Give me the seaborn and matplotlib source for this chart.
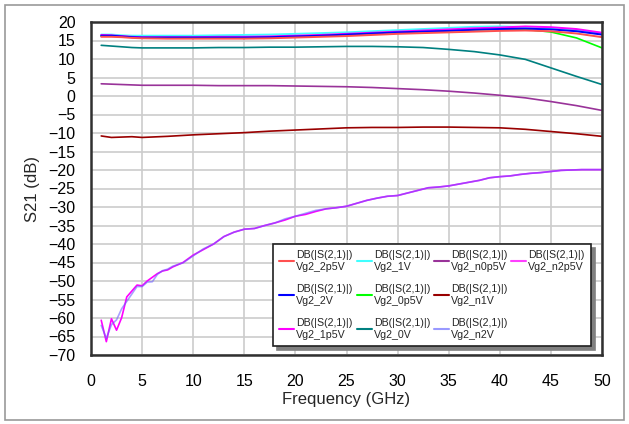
import numpy as np
import pandas as pd
import seaborn as sns
import matplotlib
matplotlib.use("Agg")
import matplotlib.pyplot as plt
from matplotlib.lines import Line2D
from matplotlib.patches import Rectangle

# ---------------- data ----------------
freq = [1, 2, 3, 4, 5, 7.5, 10, 12.5, 15, 17.5, 20, 22.5, 25, 27.5, 30,
        32.5, 35, 37.5, 40, 42.5, 45, 47.5, 50]

vg2_2p5V = [16.0, 16.0, 15.9, 15.7, 15.6, 15.5, 15.5, 15.5, 15.5, 15.6, 15.8, 16.0,
            16.2, 16.5, 16.8, 17.0, 17.2, 17.4, 17.6, 17.7, 17.5, 16.9, 15.9]
vg2_2V = [16.3, 16.3, 16.1, 15.9, 15.8, 15.8, 15.8, 15.8, 15.8, 15.9, 16.1, 16.3,
          16.6, 16.9, 17.2, 17.4, 17.6, 17.9, 18.1, 18.2, 18.0, 17.5, 16.6]
vg2_1p5V = [16.5, 16.4, 16.2, 16.0, 15.9, 15.9, 15.9, 16.0, 16.0, 16.1, 16.3, 16.5,
            16.8, 17.1, 17.4, 17.7, 18.0, 18.3, 18.5, 18.8, 18.6, 18.1, 17.1]
vg2_1V = [16.6, 16.6, 16.4, 16.3, 16.3, 16.3, 16.3, 16.4, 16.5, 16.6, 16.8, 17.0,
          17.2, 17.5, 17.8, 18.1, 18.4, 18.7, 18.8, 18.6, 18.3, 17.8, 17.0]
vg2_0p5V = [16.2, 16.2, 16.0, 15.9, 15.8, 15.8, 15.8, 15.9, 15.9, 16.0, 16.2, 16.4,
            16.7, 17.0, 17.3, 17.5, 17.7, 17.9, 18.0, 18.0, 17.3, 15.7, 13.0]
vg2_0V = [13.7, 13.5, 13.3, 13.1, 13.0, 13.0, 13.0, 13.1, 13.1, 13.2, 13.2, 13.3,
          13.4, 13.4, 13.3, 13.1, 12.6, 12.0, 11.1, 9.9, 7.6, 5.3, 3.1]
vg2_n0p5V = [3.3, 3.2, 3.1, 3.0, 2.9, 2.9, 2.9, 2.8, 2.8, 2.8, 2.7, 2.6,
             2.5, 2.3, 2.0, 1.7, 1.3, 0.8, 0.2, -0.5, -1.5, -2.6, -3.9]
vg2_n1V = [-10.8, -11.2, -11.1, -11.0, -11.2, -10.9, -10.5, -10.2, -9.9, -9.5, -9.2, -8.9,
           -8.6, -8.5, -8.5, -8.4, -8.4, -8.5, -8.6, -9.0, -9.6, -10.2, -10.9]

freq_fine = [1, 1.5, 2, 2.5, 3, 3.5, 4, 4.5, 5, 5.5, 6, 6.5, 7, 7.5, 8, 9, 10, 11, 12,
             13, 14, 15, 16, 17, 18, 19, 20, 21, 22, 23, 24, 25, 26, 27, 28, 29, 30,
             31, 32, 33, 34, 35, 36, 37, 38, 39, 40, 41, 42, 43, 44, 45, 46, 47, 48,
             49, 50]
vg2_n2p5V = [-60.6, -66.4, -60.2, -63.3, -59.9, -54.3, -52.7, -51.1, -51.3, -50.0, -49.0,
             -48.0, -47.3, -47.0, -46.2, -45.0, -43.0, -41.5, -40.0, -38.0, -36.8, -36.0,
             -35.8, -35.0, -34.3, -33.5, -32.5, -32.0, -31.2, -30.5, -30.2, -29.8, -29.0,
             -28.2, -27.6, -27.1, -26.9, -26.2, -25.5, -24.8, -24.6, -24.3, -23.8, -23.3,
             -22.8, -22.1, -21.8, -21.6, -21.2, -20.9, -20.7, -20.4, -20.1, -20.0, -19.9,
             -19.9, -19.9]
vg2_n2V = [-62.0, -65.5, -61.8, -60.5, -57.5, -55.5, -53.5, -51.5, -51.5, -50.3, -50.2,
           -48.2, -47.2, -46.8, -46.0, -45.1, -43.2, -41.3, -40.0, -38.0, -36.8, -36.0,
           -35.8, -35.0, -34.3, -33.2, -32.5, -31.7, -30.9, -30.5, -30.2, -29.8, -29.0,
           -28.2, -27.6, -27.1, -26.9, -26.2, -25.5, -24.8, -24.6, -24.3, -23.8, -23.3,
           -22.8, -22.1, -21.8, -21.6, -21.2, -20.9, -20.7, -20.4, -20.1, -20.0, -19.9,
           -19.9, -19.9]

series_names = ["Vg2_2p5V", "Vg2_2V", "Vg2_1p5V", "Vg2_1V", "Vg2_0p5V", "Vg2_0V",
                "Vg2_n0p5V", "Vg2_n1V", "Vg2_n2V", "Vg2_n2p5V"]
series_vals = [vg2_2p5V, vg2_2V, vg2_1p5V, vg2_1V, vg2_0p5V, vg2_0V,
               vg2_n0p5V, vg2_n1V, vg2_n2V, vg2_n2p5V]
series_freq = [freq] * 8 + [freq_fine, freq_fine]
colors = ["#FF5050", "#0000FF", "#FF00FF", "#40FFFF", "#00FF00", "#008080",
          "#993399", "#990000", "#9999FF", "#FF40FF"]

x_ticks = list(range(0, 51, 5))
y_ticks = list(range(-70, 21, 5))

# ---------------- build frame ----------------
rows = []
for name, fr, vals in zip(series_names, series_freq, series_vals):
    for f, v in zip(fr, vals):
        rows.append({"freq": f, "s21": v, "series": name})
df = pd.DataFrame(rows)

sns.set_style("white")
plt.rcParams["font.family"] = ["Liberation Sans", "DejaVu Sans"]

fig = plt.figure(figsize=(6.29, 4.24), dpi=100)
ax = fig.add_axes([91/629, 1-355/424, 511/629, 333/424])

# outer frame of figure
fig.patches.append(Rectangle((5/629, 4/424), 619/629, 415/424, transform=fig.transFigure,
                             fill=False, edgecolor="#999999", linewidth=1.2))

palette = dict(zip(series_names, colors))
draw_order = ["Vg2_n1V", "Vg2_n0p5V", "Vg2_0V", "Vg2_0p5V", "Vg2_1V", "Vg2_1p5V",
              "Vg2_2V", "Vg2_2p5V", "Vg2_n2p5V", "Vg2_n2V"]
line_color = dict(palette)
line_color["Vg2_n2p5V"] = "#FF00FF"
line_color["Vg2_n2V"] = "#7060FF"
for name in draw_order:
    sub = df[df["series"] == name]
    alpha = 0.6 if name == "Vg2_n2V" else 1.0
    lw = 1.4 if name in ("Vg2_2p5V", "Vg2_2V", "Vg2_1p5V", "Vg2_1V") else 1.2
    sns.lineplot(data=sub, x="freq", y="s21", color=line_color[name], linewidth=lw,
                 alpha=alpha, ax=ax, legend=False, estimator=None, sort=False)

ax.set_xlim(0, 50)
ax.set_ylim(-70, 20)
ax.set_xticks(x_ticks)
ax.set_yticks(y_ticks)
ax.grid(True, color="#CCCCCC", linewidth=1.2)
ax.set_axisbelow(True)
ax.tick_params(axis="both", length=0, labelsize=11.5, colors="black")
ax.tick_params(axis="x", pad=14)
ax.tick_params(axis="y", pad=11)
for s in ax.spines.values():
    s.set_color("#303030")
    s.set_linewidth(1.8)
ax.set_xlabel("Frequency (GHz)", fontsize=12, labelpad=2)
ax.set_ylabel("S21 (dB)", fontsize=12, labelpad=6)

# legend: 4 columns, 3 rows, column-major with padding entries
handles = []
labels = []
for name, c in zip(series_names, colors):
    handles.append(Line2D([], [], color=c, linewidth=1.5))
    labels.append("DB(|S(2,1)|)\n" + name)
for _ in range(2):
    handles.append(Line2D([], [], color="none"))
    labels.append("")
leg = ax.legend(handles, labels, ncol=4, loc="upper left",
                bbox_to_anchor=(0.356, 0.334), borderaxespad=0,
                prop={"size": 7.7},
                handlelength=1.4, handletextpad=0.2,
                columnspacing=0.35, labelspacing=1.15, borderpad=0.6,
                frameon=True, fancybox=False,
                shadow={"ox": 3, "oy": -3, "color": "#808080", "alpha": 1})
fr = leg.get_frame()
fr.set_edgecolor("#202020")
fr.set_linewidth(1.2)
fr.set_facecolor("white")
fr.set_alpha(1)

fig.savefig("out.png", dpi=100)
